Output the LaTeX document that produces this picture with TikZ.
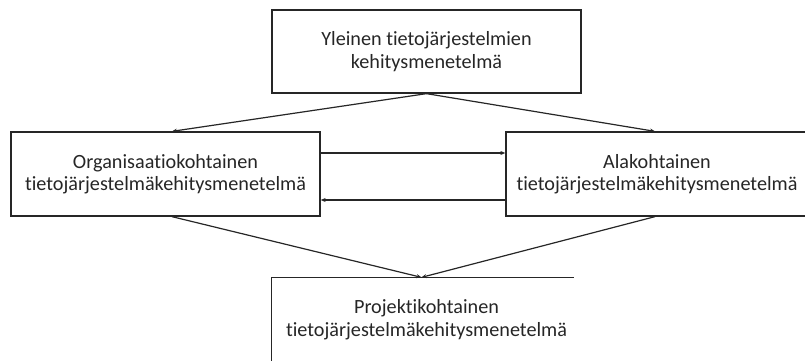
\documentclass[tikz,border=0pt]{standalone}
\usepackage{fontspec}
\setmainfont{Carlito}[Ligatures=NoCommon]
\usetikzlibrary{arrows.meta,calc}
\begin{document}
\begin{tikzpicture}[x=1pt,y=-1pt,
  box/.style={draw=black!85,line width=1.3pt,align=center,inner sep=0pt,
    font=\fontsize{20.2}{22.5}\selectfont,text=black!85},
  link/.style={line width=1.2pt,draw=black!85,-{Stealth[length=5pt,width=4pt]}}]
\useasboundingbox (0,0) rectangle (805,361);

% method levels
\node[box,minimum width=309pt,minimum height=83pt] (top) at (426.5,51.5)
  {Yleinen tietojärjestelmien\\kehitysmenetelmä};
\node[box,minimum width=309pt,minimum height=84pt] (org) at (165.5,174)
  {Organisaatiokohtainen\\tietojärjestelmäkehitysmenetelmä};
\node[box,minimum width=302pt,minimum height=84pt] (ala) at (657,174)
  {Alakohtainen\\tietojärjestelmäkehitysmenetelmä};
\node[box,draw=none,minimum width=309pt,minimum height=83pt] (proj) at (426.5,319.5)
  {Projektikohtainen\\tietojärjestelmäkehitysmenetelmä};
\draw[black!85,line width=1.3pt] (proj.south west) -- (proj.north west)
  -- ($(proj.north east)+(-8,0)$);

% derivations
\draw[link] (top.south) -- ($(org.north)+(6.5,0)$);
\draw[link] (top.south) -- ($(ala.north)+(-2,0)$);
\draw[link] ($(org.south)+(6.5,0)$) -- ($(proj.north)+(-5,0)$);
\draw[link] ($(ala.south)+(-2,0)$) -- ($(proj.north)+(-5,0)$);

% exchange between organisation and domain methods
\draw[link] ($(org.east)+(0,-21)$) -- ($(ala.west)+(0,-21)$);
\draw[link] ($(ala.west)+(0,26)$) -- ($(org.east)+(0,26)$);
\end{tikzpicture}
\end{document}
